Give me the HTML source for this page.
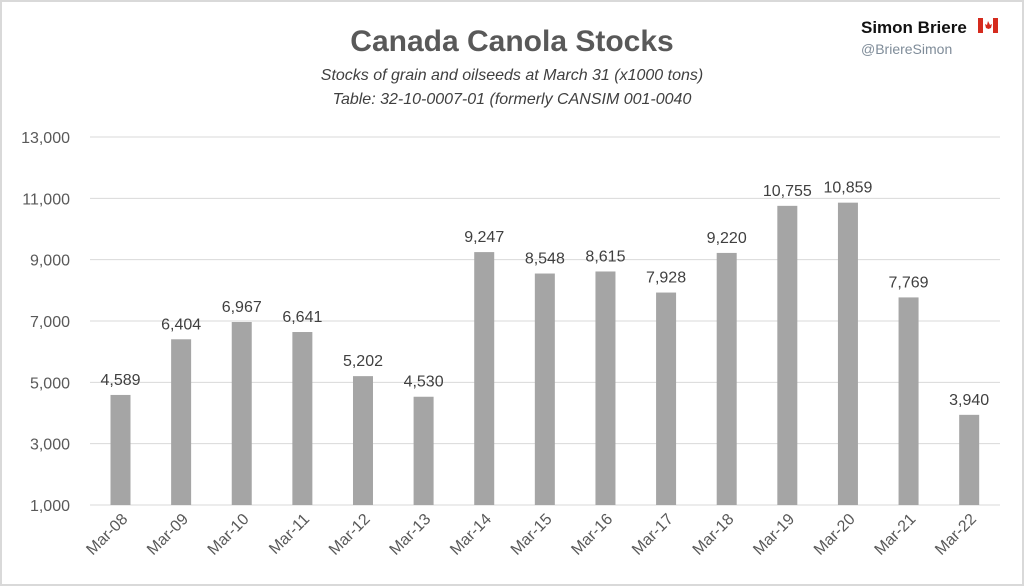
<!DOCTYPE html>
<html><head><meta charset="utf-8"><style>
body{margin:0;background:#fff;}
#wrap{position:relative;width:1024px;height:586px;box-sizing:border-box;border:2px solid #d9d9d9;background:#fff;font-family:"Liberation Sans",sans-serif;overflow:hidden}
</style></head><body>
<div id="wrap">
<svg width="1020" height="582" viewBox="2 2 1020 582" style="position:absolute;left:0;top:0">
<text x="512" y="51" text-anchor="middle" font-size="30" font-weight="bold" fill="#595959">Canada Canola Stocks</text>
<text x="512" y="80" text-anchor="middle" font-size="16" font-style="italic" fill="#404040">Stocks of grain and oilseeds at March 31 (x1000 tons)</text>
<text x="512" y="104" text-anchor="middle" font-size="16" font-style="italic" fill="#404040">Table: 32-10-0007-01 (formerly CANSIM 001-0040</text>
<text x="861" y="33" font-size="17" font-weight="bold" fill="#111">Simon Briere</text>
<g><rect x="978" y="18" width="20" height="15" fill="#fff"/><rect x="978" y="18" width="5" height="15" fill="#d52b1e"/><rect x="993" y="18" width="5" height="15" fill="#d52b1e"/><path d="M988 21 L990 25 L992 24 L991 28 L988.5 29 L986 28 L985 24 L987 25 Z" fill="#d52b1e"/></g>
<text x="861" y="54" font-size="14" fill="#7f8c99">@BriereSimon</text>
<g id="grid"></g><g id="bars"></g>
</svg>
</div>
<script>
const categories=["Mar-08","Mar-09","Mar-10","Mar-11","Mar-12","Mar-13","Mar-14","Mar-15","Mar-16","Mar-17","Mar-18","Mar-19","Mar-20","Mar-21","Mar-22"];
const values=[4589,6404,6967,6641,5202,4530,9247,8548,8615,7928,9220,10755,10859,7769,3940];
const ticks=[1000,3000,5000,7000,9000,11000,13000];
const NS="http://www.w3.org/2000/svg";
function y(v){return 505-(v-1000)*(368/12000);}
function x(i){return 120.5+i*60.62;}
function mk(t,a,p){const e=document.createElementNS(NS,t);for(const k in a)e.setAttribute(k,a[k]);p.appendChild(e);return e;}
const g=document.getElementById('grid'),b=document.getElementById('bars');
ticks.forEach(t=>{
 const l=mk('line',{x1:90,x2:1000,y1:y(t),y2:y(t),stroke:'#d9d9d9','stroke-width':1},g);
 
 
 const tx=mk('text',{x:70,y:y(t)+6,'text-anchor':'end','font-size':16,fill:'#595959'},g);
 tx.textContent=t.toLocaleString('en-US');
 
 
});
values.forEach((v,i)=>{
 const r=mk('rect',{x:x(i)-10,y:y(v),width:20,height:y(1000)-y(v),fill:'#a5a5a5'},b);
 
 
 const lt=mk('text',{x:x(i),y:y(v)-10,'text-anchor':'middle','font-size':16,fill:'#404040'},b);
 lt.textContent=v.toLocaleString('en-US');
 
 
 const ct=mk('text',{x:x(i)+8,y:520,'text-anchor':'end','font-size':16,fill:'#595959',transform:`rotate(-45 ${x(i)+8} 520)`},b);
 ct.textContent=categories[i];
 
 
});
</script>
</body></html>
